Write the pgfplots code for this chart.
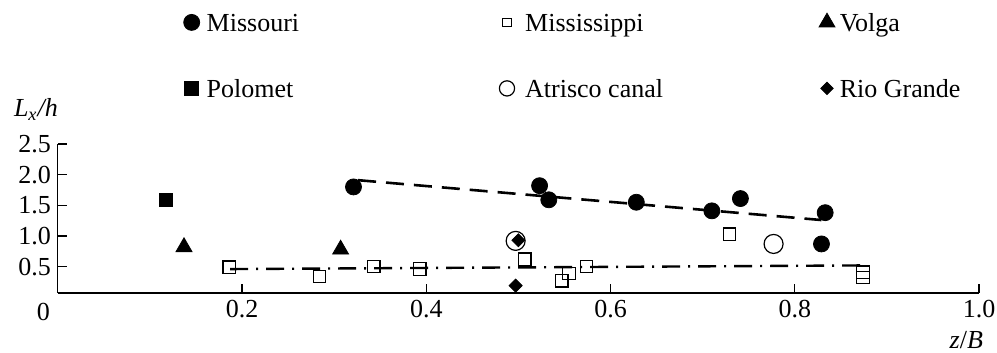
\documentclass[border=0pt]{standalone}
\usepackage{pgfplots}
\pgfplotsset{compat=1.18}
\usepackage{fontspec}
\setmainfont{Liberation Serif}
\newcommand{\fs}{\fontsize{13bp}{15bp}\selectfont}
\begin{document}
\begin{tikzpicture}
\path[use as bounding box] (-28.9bp,-30bp) rectangle (469.6bp,146.5bp);
\begin{axis}[
  at={(0,0)}, anchor=south west,
  scale only axis, width=460.6bp, height=74.5bp,
  xmin=0, xmax=1.0, ymin=0.07, ymax=2.5,
  axis x line*=bottom, axis y line*=left,
  axis line style={-, line width=0.6bp},
  every tick/.style={black, line width=0.6bp},
  major tick length=4.5bp, tick align=inside,
  xtick={0.2,0.4,0.6,0.8,1.0}, ytick={0.5,1.0,1.5,2.0,2.5},
  /pgf/number format/assume math mode=true,
  /pgf/number format/.cd, fixed, fixed zerofill, precision=1, /pgfplots/.cd,
  tick label style={font=\fs},
  clip=false,
  legend columns=3,
  legend cell align=left,
  legend style={at={(0.13667,1.8812)}, anchor=north west, draw=none, fill=none,
    inner sep=0pt, outer sep=0pt, font=\fs, column sep=0pt, row sep=20.5bp,
    nodes={inner sep=0pt, text height=9.5bp, text depth=3bp},
    /tikz/every odd column/.append style={column sep=3.5bp}},
  legend image code/.code={\path[draw=none,fill=none] (-4bp,-1bp) rectangle (4bp,1bp);
    \draw[#1] plot coordinates {(0bp,1.4bp)};},
]
% fitted lines
\addplot[forget plot, black, line width=1.3bp, dash pattern=on 9bp off 5bp]
  coordinates {(0.326,1.91) (0.829,1.26)};
\addplot[forget plot, black, line width=1.2bp, dash pattern=on 9bp off 4bp on 1bp off 4bp]
  coordinates {(0.187,0.46) (0.875,0.52)};
% Missouri
\addplot[only marks, mark=*, mark size=4bp, black]
  coordinates {(0.321,1.80) (0.523,1.82) (0.533,1.59) (0.628,1.55) (0.710,1.41) (0.741,1.61) (0.833,1.38) (0.829,0.87)};
\addlegendentry{\makebox[146.15bp][l]{Missouri}}
% Mississippi
\addplot[only marks, mark=square, mark size=3.1bp, black, mark options={fill=white, line width=0.6bp}, legend image post style={mark size=2.1bp}]
  coordinates {(0.186,0.49) (0.284,0.34) (0.343,0.50) (0.393,0.46) (0.507,0.62) (0.547,0.27) (0.555,0.39) (0.574,0.50) (0.729,1.03) (0.874,0.41) (0.874,0.32)};
\addlegendentry{\makebox[148.5bp][l]{\hspace*{1.6bp}Mississippi}}
% Volga
\addplot[only marks, mark=triangle*, mark size=4.6bp, black, legend image post style={mark size=4.6bp}]
  coordinates {(0.137,0.82) (0.307,0.78)};
\addlegendentry{\hspace*{-1.1bp}Volga}
% Polomet
\addplot[only marks, mark=square*, mark size=3.3bp, black, legend image post style={mark size=3.5bp}]
  coordinates {(0.117,1.59)};
\addlegendentry{\makebox[146.15bp][l]{Polomet}}
% Atrisco canal
\addplot[only marks, mark=o, mark size=4.75bp, black, mark options={line width=0.6bp}, legend image post style={mark size=3.8bp}]
  coordinates {(0.497,0.92) (0.777,0.87)};
\addlegendentry{\makebox[148.5bp][l]{\hspace*{1.6bp}Atrisco canal}}
% Rio Grande
\addplot[only marks, mark=square*, mark size=2.3bp, black, mark options={rotate=45}, legend image post style={mark size=2.2bp}]
  coordinates {(0.500,0.93) (0.497,0.19)};
\addlegendentry{\hspace*{-1.1bp}Rio Grande}
\node[font=\fs, anchor=center] at (rel axis cs:0,0) [xshift=-7.2bp, yshift=-9.5bp] {0};
\node[font=\fs, anchor=base west] at (rel axis cs:0,0) [xshift=-25.4bp, yshift=88bp] {\textit{L\textsubscript{x}/h}};
\node[font=\fs, anchor=base east] at (rel axis cs:0,0) [xshift=466.1bp, yshift=-27.5bp] {\textit{z}/\textit{B}};
\end{axis}
\end{tikzpicture}
\end{document}
